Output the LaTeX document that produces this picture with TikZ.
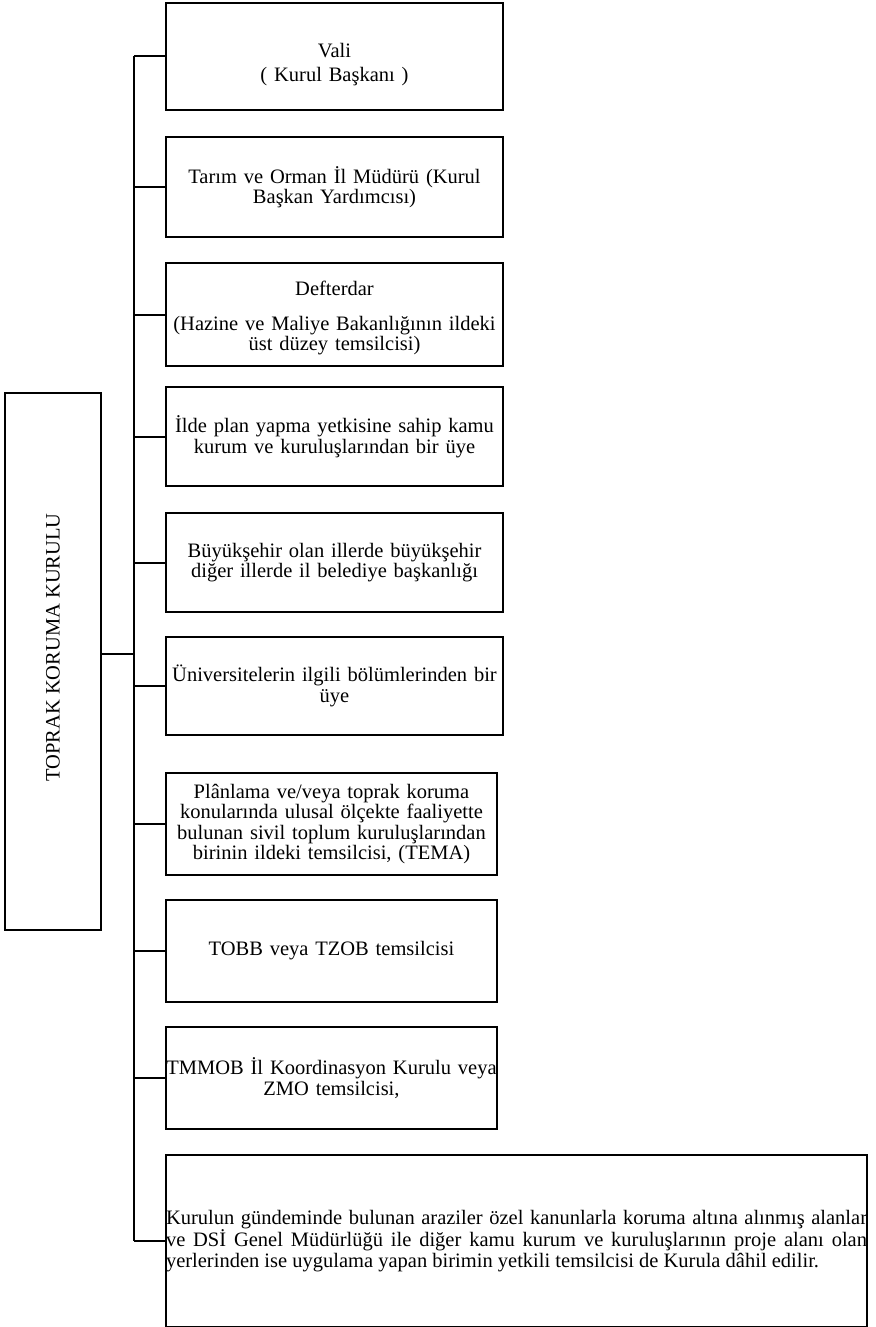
\documentclass[tikz,border=0pt]{standalone}
\usepackage{fontspec}
\setmainfont{Liberation Serif}
\begin{document}
\begin{tikzpicture}[x=1pt,y=-1pt,
  font=\fontsize{20.5}{20.5}\selectfont,
  member/.style={draw, line width=2pt, inner xsep=0pt, inner ysep=0pt,
    align=center, text width=#1},
  member/.default=337pt]
  \useasboundingbox (0,0) rectangle (875,1327);
  % council box on the left
  \node[draw, line width=2pt, minimum width=96pt, minimum height=537pt] (kurul) at (53,661.5) {};
  \node[rotate=90] (kurulad) at ([yshift=14pt]kurul.center) {TOPRAK KORUMA KURULU};
  % member boxes
  \node[member, minimum height=107pt] (vali) at (334.5,56.5) {\rule{0pt}{30pt}Vali\\[4pt]( Kurul Başkanı )};
  \node[member, minimum height=100pt] (tarim) at (334.5,187) {Tarım ve Orman İl Müdürü (Kurul\\Başkan Yardımcısı)};
  \node[member, minimum height=103pt] (defter) at (334.5,314.5) {\rule{0pt}{22pt}Defterdar\\[14pt](Hazine ve Maliye Bakanlığının ildeki\\üst düzey temsilcisi)};
  \node[member, minimum height=99pt] (plan) at (334.5,436.5) {İlde plan yapma yetkisine sahip kamu\\kurum ve kuruluşlarından bir üye};
  \node[member, minimum height=99pt] (beled) at (334.5,562.5) {Büyükşehir olan illerde büyükşehir\\diğer illerde il belediye başkanlığı};
  \node[member, minimum height=98pt] (univ) at (334.5,686) {Üniversitelerin ilgili bölümlerinden bir\\üye};
  \node[member=331pt, minimum height=102pt] (tema) at (331.5,824) {Plânlama ve/veya toprak koruma\\konularında ulusal ölçekte faaliyette\\bulunan sivil toplum kuruluşlarından\\birinin ildeki temsilcisi, (TEMA)};
  \node[member=331pt, minimum height=102pt] (tobb) at (331.5,951) {TOBB veya TZOB temsilcisi};
  \node[member=331pt, minimum height=102pt] (tmmob) at (331.5,1078) {TMMOB İl Koordinasyon Kurulu veya\\ZMO temsilcisi,};
  \node[member=701pt, align=justify, minimum height=172pt] (dsi) at (516.5,1241) {Kurulun gündeminde bulunan araziler özel kanunlarla koruma altına alınmış alanlar\linebreak ve DSİ Genel Müdürlüğü ile diğer kamu kurum ve kuruluşlarının proje alanı olan\linebreak yerlerinden ise uygulama yapan birimin yetkili temsilcisi de Kurula dâhil edilir.};
  % trunk and branches
  \coordinate (trunk) at (134,0);
  \draw[line width=2pt] (vali.west -| trunk) -- (dsi.west -| trunk);
  \draw[line width=2pt] ([yshift=8pt]kurul.east) -- ([yshift=8pt]kurul.east -| trunk);
  \foreach \m in {vali,tarim,defter,plan,beled,univ,tema,tobb,tmmob,dsi}
    \draw[line width=2pt] (\m.west) -- (\m.west -| trunk);
\end{tikzpicture}
\end{document}
